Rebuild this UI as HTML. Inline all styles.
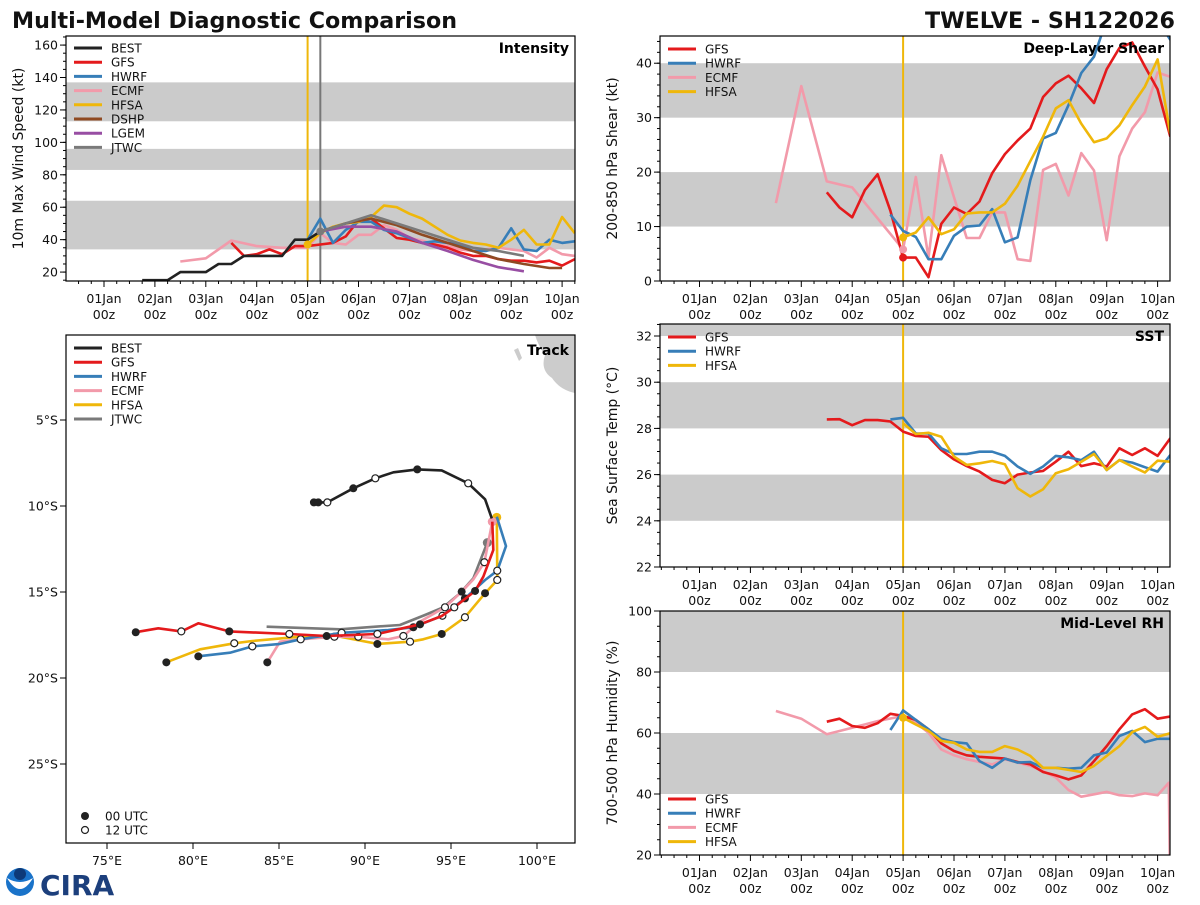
<!DOCTYPE html>
<html><head><meta charset="utf-8"><style>
body{margin:0;background:#fff;width:1200px;height:900px;overflow:hidden;font-family:"Liberation Sans","DejaVu Sans",sans-serif}
svg text{font-family:"DejaVu Sans","Liberation Sans",sans-serif}
</style></head><body>
<svg id="c" width="1200" height="900" viewBox="0 0 1200 900" xmlns="http://www.w3.org/2000/svg">
<text x="12" y="28" font-size="22.2" font-weight="bold" fill="#111">Multi-Model Diagnostic Comparison</text>
<text x="1175" y="28" font-size="22.2" font-weight="bold" fill="#111" text-anchor="end">TWELVE - SH122026</text>
<g><circle cx="20" cy="882" r="14" fill="#1a73c9"/><path d="M7 878 Q20 900 33 878 Q20 886 7 878Z" fill="#fff"/><circle cx="20" cy="874" r="6" fill="#0d3a78"/></g>
<g><text x="40" y="895" font-size="28" font-weight="bold" fill="#1c3f7c" font-family="Liberation Serif">CIRA</text></g>
</svg>
<script>
// ---------- data ----------
const intBestT=[0.75,1,1.25,1.5,1.75,2,2.25,2.5,2.75,3,3.25,3.5,3.75,4,4.25];
const intBestV=[15,15,15,20,20,20,25,25,30,30,30,30,40,40,45];
const intGfsV=[38,30,31,34,31,36,36,37,38,42,52,53,47,41,40,38,37,35,32,30,30,28,27,27,26,27,24,28];
const intHwrfV=[40,53,38,46,51,51,46,44,41,38,39,38,37,33,33,35,47,34,33,40,38,39];
const intEcmfT=[1.5,2,2.5,3,3.5,4,4.25,4.5,4.75,5,5.25,5.5,5.75,6,6.25,6.5,6.75,7,7.25,7.5,7.75,8,8.25,8.5,8.75,9,9.25];
const intEcmfV=[26.5,28.5,39.5,36,35,35,44,38,37,43,43,49,46,41,39.5,37,36,34,33,34,35,34,33,29,35,31,30];
const intHfsaV=[37,44,48,50,51,54,61,60,56,53,48,43,39.5,38,37,35,40,46,37,37,54,44];
const intDshpT=[4.25,4.75,5.25,5.75,6.25,6.75,7.25,7.75,8.25,8.75,9.0];
const intDshpV=[45,50,53,49,43,38,33,28,25,22.5,22.5];
const intLgemT=[4.25,4.75,5.25,5.75,6.25,6.75,7.25,7.75,8.25];
const intLgemV=[45,48,48,45,38,33,27.5,23,20.5];
const intJtwcT=[4.25,4.75,5.25,5.75,6.25,6.75,7.25,7.75,8.25];
const intJtwcV=[45,50,55,50,45,40,35,33,30];

const shrGfsV=[16.3,13.5,11.7,16.7,19.6,12.9,4.3,4.3,0.7,10.5,13.5,12.3,14.6,19.8,23.3,25.8,28,33.8,36.3,37.7,35.4,32.7,38.9,42.8,43.8,39.4,35.2,26.5];
const shrHwrfV=[12.2,9.2,8.1,4,4,8.3,10,10.2,13.2,7.1,8,18.5,26.2,27.2,32.3,38.2,41.2,48,52,52,50,48,44.3];
const shrEcmfT=[1.5,2,2.5,3,4,4.25,4.5,4.75,5,5.25,5.5,5.75,6,6.25,6.5,6.75,7,7.25,7.5,7.75,8,8.25,8.5,8.75,9,9.25];
const shrEcmfV=[14.3,35.8,18.3,17.2,5.8,19.1,4.3,23.1,15.4,7.9,7.9,12.6,12.6,4.0,3.7,20.4,21.5,15.7,23.5,20.3,7.5,22.9,28,31,38.3,37.5];
const shrHfsaV=[8,8.9,11.7,8.6,9.5,12.4,12.6,12.6,14.2,17.5,22,26.5,31.7,33.2,28.9,25.5,26.2,28.6,32.3,35.7,40.7,27.1];

const sstGfsV=[28.39,28.4,28.14,28.36,28.36,28.3,27.86,27.67,27.64,27.06,26.66,26.37,26.13,25.77,25.63,26.0,26.09,26.16,26.56,26.99,26.37,26.49,26.35,27.14,26.85,27.14,26.81,27.57];
const sstHwrfV=[28.39,28.46,27.78,27.78,27.14,26.89,26.89,26.99,26.99,26.81,26.35,26.03,26.35,26.81,26.75,26.63,26.99,26.2,26.63,26.52,26.32,26.13,26.85];
const sstHfsaV=[28.22,27.76,27.81,27.64,26.78,26.42,26.49,26.59,26.45,25.41,25.05,25.37,26.06,26.23,26.56,26.89,26.2,26.63,26.35,26.09,26.6,26.56];

const rhGfsV=[63.7,64.7,62.3,61.7,63.2,66.3,65.6,64.3,61.2,56.6,54.1,52.7,52.2,51.9,51.6,50.5,49.7,47.2,46.1,44.8,46.1,50.8,55.7,61.2,66.1,67.8,64.7,65.4];
const rhHwrfV=[61,67.4,64.3,61.2,58.1,57,56.6,50.8,48.6,51.6,50.3,50.5,48.6,48.6,48.3,48.6,52.7,53.6,59,60.7,57,58.1,58.1];
const rhEcmfT=[1.5,2,2.5,3,3.5,4,4.25,4.5,4.75,5,5.25,5.5,5.75,6,6.25,6.5,6.75,7,7.25,7.5,7.75,8,8.25,8.5,8.75,9,9.22,9.24];
const rhEcmfV=[67.2,64.7,59.6,61.7,63.9,65.6,63.4,60.1,54.6,52.7,51.4,50.5,49.7,51.4,50.3,49.2,47.5,45.4,41.3,39.1,39.9,40.7,39.6,39.3,40.2,39.6,43.7,18];
const rhHfsaV=[65,62.8,60.7,57.4,56.8,54.6,53.8,53.8,55.7,54.6,52.5,48.6,48.6,47.9,47.2,49.2,52.5,55.7,60.3,62,58.8,59.9];

const dayLabels=["01Jan","02Jan","03Jan","04Jan","05Jan","06Jan","07Jan","08Jan","09Jan","10Jan"];

const trkBestLon=[87.03,87.28,87.81,89.32,90.6,91.65,93.04,94.46,96.0,96.98,97.37];
const trkBestLat=[-9.79,-9.79,-9.79,-8.97,-8.39,-8.04,-7.87,-7.93,-8.68,-9.61,-10.72];
const trkBestM=["f","f","o","f","o","","f","","o","",""];
const trkGfsLon=[97.4,97.46,96.88,96.4,95.19,94.46,93.2,90.72,87.77,85.6,82.11,80.31,79.32,77.98,76.67];
const trkGfsLat=[-10.91,-12.56,-14.11,-14.94,-15.89,-16.4,-16.88,-17.44,-17.56,-17.44,-17.29,-16.82,-17.29,-17.11,-17.34];
const trkGfsM=["","","","f","o","","f","o","f","o","f","","o","","f"];
const trkHwrfLon=[97.66,98.2,97.69,96.98,95.81,94.5,92.81,91.35,88.64,86.26,85.06,83.45,82.15,80.31];
const trkHwrfLat=[-10.62,-12.33,-13.76,-14.3,-15.37,-16.38,-17.05,-17.21,-17.37,-17.75,-18.02,-18.16,-18.53,-18.74];
const trkHwrfM=["","","o","","f","o","f","","o","o","","o","","f"];
const trkEcmfLon=[97.4,96.94,96.3,95.62,94.65,93.2,92.23,91.35,89.61,88.22,86.26,85.06,84.32];
const trkEcmfLat=[-10.91,-13.27,-14.26,-14.98,-15.89,-16.72,-17.56,-17.75,-17.6,-17.6,-17.75,-17.89,-19.09];
const trkEcmfM=["c","o","","f","o","","o","","o","o","","","f"];
const trkHfsaLon=[97.66,97.69,96.98,95.81,94.46,93.39,92.62,90.72,88.55,86.22,83.45,82.4,80.41,78.45];
const trkHfsaLat=[-10.66,-14.3,-15.07,-16.47,-17.44,-17.75,-17.89,-18.02,-17.6,-17.6,-17.85,-17.98,-18.33,-19.09];
const trkHfsaM=["c","o","f","o","f","","o","f","","","","o","","f"];
const trkJtwcLon=[97.11,96.3,95.52,94.55,93.49,92.03,90.6,88.55,84.28];
const trkJtwcLat=[-12.13,-14.2,-15.08,-15.89,-16.34,-16.92,-17.02,-17.17,-17.02];
const trkJtwcM=["c","","","","","","","",""];

// ---------- helpers ----------
const NS="http://www.w3.org/2000/svg";
const svg=document.getElementById('c');
const C={BEST:"#222",GFS:"#e41a1c",HWRF:"#377eb8",ECMF:"#f29aaa",HFSA:"#efb70a",DSHP:"#8f4a22",LGEM:"#984ea3",JTWC:"#7a7a7a"};
function mk(tag,attrs,parent){const e=document.createElementNS(NS,tag);for(const k in attrs)e.setAttribute(k,attrs[k]);(parent||svg).appendChild(e);return e;}
function grid(start,n){const a=[];for(let i=0;i<n;i++)a.push(start+i*0.25);return a;}

function tsPanel(p){
  const g=mk('g',{});
  
  
  const cid='clip-'+p.name;
  const cp=mk('clipPath',{id:cid},g);mk('rect',{x:p.x0,y:p.y0,width:p.x1-p.x0,height:p.y1-p.y0},cp);
  const X=t=>p.xa+t*p.ppd;
  const Y=v=>p.y1-(v-p.vmin)/(p.vmax-p.vmin)*(p.y1-p.y0);
  for(const b of p.bands){
    const top=Math.max(p.y0,Y(b[1])),bot=Math.min(p.y1,Y(b[0]));
    const r=mk('rect',{x:p.x0,y:top,width:p.x1-p.x0,height:bot-top,fill:'#cbcbcb'},g);
    
    
  }
  for(const vl of p.vlines){
    const l=mk('line',{x1:X(vl[0]),x2:X(vl[0]),y1:p.y0,y2:p.y1,stroke:vl[1],'stroke-width':2},g);
    
    
  }
  const lg=mk('g',{'clip-path':'url(#'+cid+')'},g);
  for(const s of p.series){
    const pts=s.v.map((v,i)=>X(s.t[i]).toFixed(1)+','+Y(v).toFixed(1)).join(' ');
    const pl=mk('polyline',{points:pts,fill:'none',stroke:C[s.k],'stroke-width':2.6,'stroke-linejoin':'round'},lg);
    
    
  }
  for(const d of (p.dots||[])){
    mk('circle',{cx:X(d[0]),cy:Y(d[1]),r:4,fill:C[d[2]]},lg);
  }
  mk('rect',{x:p.x0,y:p.y0,width:p.x1-p.x0,height:p.y1-p.y0,fill:'none',stroke:'#000','stroke-width':1.2},g);
  for(let v=p.minStart;v<=p.vmax+1e-6;v+=p.minor){const y=Y(v);if(y<p.y0-0.5||y>p.y1+0.5)continue;mk('line',{x1:p.x0-3,x2:p.x0,y1:y,y2:y,stroke:'#000','stroke-width':1},g);}
  for(const v of p.yticks){const y=Y(v);mk('line',{x1:p.x0-6,x2:p.x0,y1:y,y2:y,stroke:'#000','stroke-width':1},g);
    const t=mk('text',{x:p.x0-8,y:y+4.5,'font-size':12.5,'text-anchor':'end',fill:'#111'},g);t.textContent=v;
    
    }
  for(let t=-0.75;t<=9.3;t+=0.25){const x=X(t);if(x<p.x0||x>p.x1)continue;const maj=Math.abs(t-Math.round(t))<1e-6;
    mk('line',{x1:x,x2:x,y1:p.y1,y2:p.y1+(maj?6:3),stroke:'#000','stroke-width':1},g);}
  dayLabels.forEach((d,i)=>{const x=X(i);
    const a=mk('text',{x:x,y:p.y1+22,'font-size':12.5,'text-anchor':'middle',fill:'#111'},g);a.textContent=d;
    
    
    const b=mk('text',{x:x,y:p.y1+38,'font-size':12.5,'text-anchor':'middle',fill:'#111'},g);b.textContent='00z';});
  const yl=mk('text',{x:0,y:0,'font-size':14,'text-anchor':'middle',fill:'#111',transform:`translate(${p.x0-43},${(p.y0+p.y1)/2}) rotate(-90)`},g);yl.textContent=p.ylabel;
  
  
  const tt=mk('text',{x:p.x1-6,y:p.y0+17,'font-size':14,'font-weight':'bold','text-anchor':'end',fill:'#000'},g);tt.textContent=p.title;
  
  
  legend(g,p.x0+6,p.legY,p.legend);
}
function legend(g,x,y,keys){
  keys.forEach((k,i)=>{const yy=y+i*14.2;
    const e=mk('g',{},g);
    
    
    mk('line',{x1:x+2,x2:x+30,y1:yy,y2:yy,stroke:C[k],'stroke-width':3},e);
    const t=mk('text',{x:x+39,y:yy+4.5,'font-size':12,fill:'#111'},e);t.textContent=k;});
}

const LX=104,RX=699.5,PPD=50.9;
tsPanel({name:'intensity-panel',x0:66,x1:575,y0:36,y1:281,xa:LX,ppd:PPD,vmin:14.5,vmax:165.6,
  bands:[[34,64],[83,96],[113,137]],vlines:[[4,'#efb70a'],[4.25,'#777']],
  yticks:[20,40,60,80,100,120,140,160],minor:5,minStart:15,ylabel:'10m Max Wind Speed (kt)',title:'Intensity',legY:48,
  legend:['BEST','GFS','HWRF','ECMF','HFSA','DSHP','LGEM','JTWC'],
  series:[{k:'ECMF',t:intEcmfT,v:intEcmfV},{k:'GFS',t:grid(2.5,intGfsV.length),v:intGfsV},{k:'HWRF',t:grid(4,intHwrfV.length),v:intHwrfV},
    {k:'HFSA',t:grid(4,intHfsaV.length),v:intHfsaV},{k:'DSHP',t:intDshpT,v:intDshpV},{k:'LGEM',t:intLgemT,v:intLgemV},
    {k:'JTWC',t:intJtwcT,v:intJtwcV},{k:'BEST',t:intBestT,v:intBestV}],
  dots:[[4,intHfsaV[0],'HFSA'],[4.25,intJtwcV[0],'JTWC']]});
tsPanel({name:'shear-panel',x0:660,x1:1170,y0:36,y1:281,xa:RX,ppd:PPD,vmin:0,vmax:45,
  bands:[[10,20],[30,40]],vlines:[[4,'#efb70a']],yticks:[0,10,20,30,40],minor:2,minStart:0,
  ylabel:'200-850 hPa Shear (kt)',title:'Deep-Layer Shear',legY:49,legend:['GFS','HWRF','ECMF','HFSA'],
  series:[{k:'ECMF',t:shrEcmfT,v:shrEcmfV},{k:'GFS',t:grid(2.5,shrGfsV.length),v:shrGfsV},{k:'HWRF',t:grid(3.75,shrHwrfV.length),v:shrHwrfV},{k:'HFSA',t:grid(4,shrHfsaV.length),v:shrHfsaV}],
  dots:[[4,shrGfsV[6],'GFS'],[4,shrEcmfV[4],'ECMF'],[4,shrHfsaV[0],'HFSA']]});
tsPanel({name:'sst-panel',x0:660,x1:1170,y0:324,y1:567,xa:RX,ppd:PPD,vmin:22,vmax:32.52,
  bands:[[24,26],[28,30],[32,33]],vlines:[[4,'#efb70a']],yticks:[22,24,26,28,30,32],minor:0.5,minStart:22,
  ylabel:'Sea Surface Temp (°C)',title:'SST',legY:337,legend:['GFS','HWRF','HFSA'],
  series:[{k:'GFS',t:grid(2.5,sstGfsV.length),v:sstGfsV},{k:'HWRF',t:grid(3.75,sstHwrfV.length),v:sstHwrfV},{k:'HFSA',t:grid(4,sstHfsaV.length),v:sstHfsaV}]});
tsPanel({name:'rh-panel',x0:660,x1:1170,y0:611,y1:855,xa:RX,ppd:PPD,vmin:20,vmax:100,
  bands:[[40,60],[80,100]],vlines:[[4,'#efb70a']],yticks:[20,40,60,80,100],minor:5,minStart:20,
  ylabel:'700-500 hPa Humidity (%)',title:'Mid-Level RH',legY:799,legend:['GFS','HWRF','ECMF','HFSA'],
  series:[{k:'ECMF',t:rhEcmfT,v:rhEcmfV},{k:'GFS',t:grid(2.5,rhGfsV.length),v:rhGfsV},{k:'HWRF',t:grid(3.75,rhHwrfV.length),v:rhHwrfV},{k:'HFSA',t:grid(4,rhHfsaV.length),v:rhHfsaV}],
  dots:[[4,rhHfsaV[0],'HFSA']]});

// ---------- track ----------
(function(){
  const g=mk('g',{});
  
  
  const x0=66,x1=575,y0=335,y1=843,ppd=17.2;
  const LON=lo=>107+(lo-75)*ppd, LAT=la=>420+(-la-5)*ppd;
  const cp=mk('clipPath',{id:'clip-trk'},g);mk('rect',{x:x0,y:y0,width:x1-x0,height:y1-y0},cp);
  const land=mk('path',{d:'M535 335 L575 335 L575 393 Q560 390 552 378 Q540 370 545 355 Q538 345 535 335Z',fill:'#cccccc'},g);
  
  
  mk('path',{d:'M514 350 L518 348 L522 358 L519 361Z',fill:'#cccccc'},g);
  const lg=mk('g',{'clip-path':'url(#clip-trk)'},g);
  const tracks=[['JTWC',trkJtwcLon,trkJtwcLat,trkJtwcM],['HFSA',trkHfsaLon,trkHfsaLat,trkHfsaM],['ECMF',trkEcmfLon,trkEcmfLat,trkEcmfM],['HWRF',trkHwrfLon,trkHwrfLat,trkHwrfM],['GFS',trkGfsLon,trkGfsLat,trkGfsM],['BEST',trkBestLon,trkBestLat,trkBestM]];
  for(const [k,lo,la,m] of tracks){
    const pts=lo.map((v,i)=>LON(v).toFixed(1)+','+LAT(la[i]).toFixed(1)).join(' ');
    const pl=mk('polyline',{points:pts,fill:'none',stroke:C[k],'stroke-width':2.6,'stroke-linejoin':'round'},lg);
    
    
    m.forEach((t,i)=>{if(!t)return;const cx=LON(lo[i]),cy=LAT(la[i]);
      if(t==='f')mk('circle',{cx,cy,r:4,fill:'#222'},lg);
      else if(t==='o')mk('circle',{cx,cy,r:3.5,fill:'#fff',stroke:'#222','stroke-width':1.2},lg);
      else mk('circle',{cx,cy,r:4.5,fill:C[k]},lg);});
  }
  mk('rect',{x:x0,y:y0,width:x1-x0,height:y1-y0,fill:'none',stroke:'#000','stroke-width':1.2},g);
  [5,10,15,20,25].forEach(d=>{const y=LAT(-d);mk('line',{x1:x0-6,x2:x0,y1:y,y2:y,stroke:'#000'},g);
    const t=mk('text',{x:x0-8,y:y+4.5,'font-size':12.5,'text-anchor':'end',fill:'#111'},g);t.textContent=d+'°S';
    
    });
  [75,80,85,90,95,100].forEach(d=>{const x=LON(d);mk('line',{x1:x,x2:x,y1:y1,y2:y1+6,stroke:'#000'},g);
    const t=mk('text',{x:x,y:y1+22,'font-size':12.5,'text-anchor':'middle',fill:'#111'},g);t.textContent=d+'°E';
    
    });
  const tt=mk('text',{x:x1-6,y:y0+20,'font-size':14,'font-weight':'bold','text-anchor':'end',fill:'#000'},g);tt.textContent='Track';
  
  
  legend(g,x0+6,348,['BEST','GFS','HWRF','ECMF','HFSA','JTWC']);
  mk('circle',{cx:85,cy:816,r:4,fill:'#222'},g);
  const a=mk('text',{x:105,y:820.5,'font-size':12,fill:'#111'},g);a.textContent='00 UTC';
  mk('circle',{cx:85,cy:830,r:3.5,fill:'#fff',stroke:'#222','stroke-width':1.2},g);
  const b=mk('text',{x:105,y:834.5,'font-size':12,fill:'#111'},g);b.textContent='12 UTC';
})();
</script>
</body></html>
